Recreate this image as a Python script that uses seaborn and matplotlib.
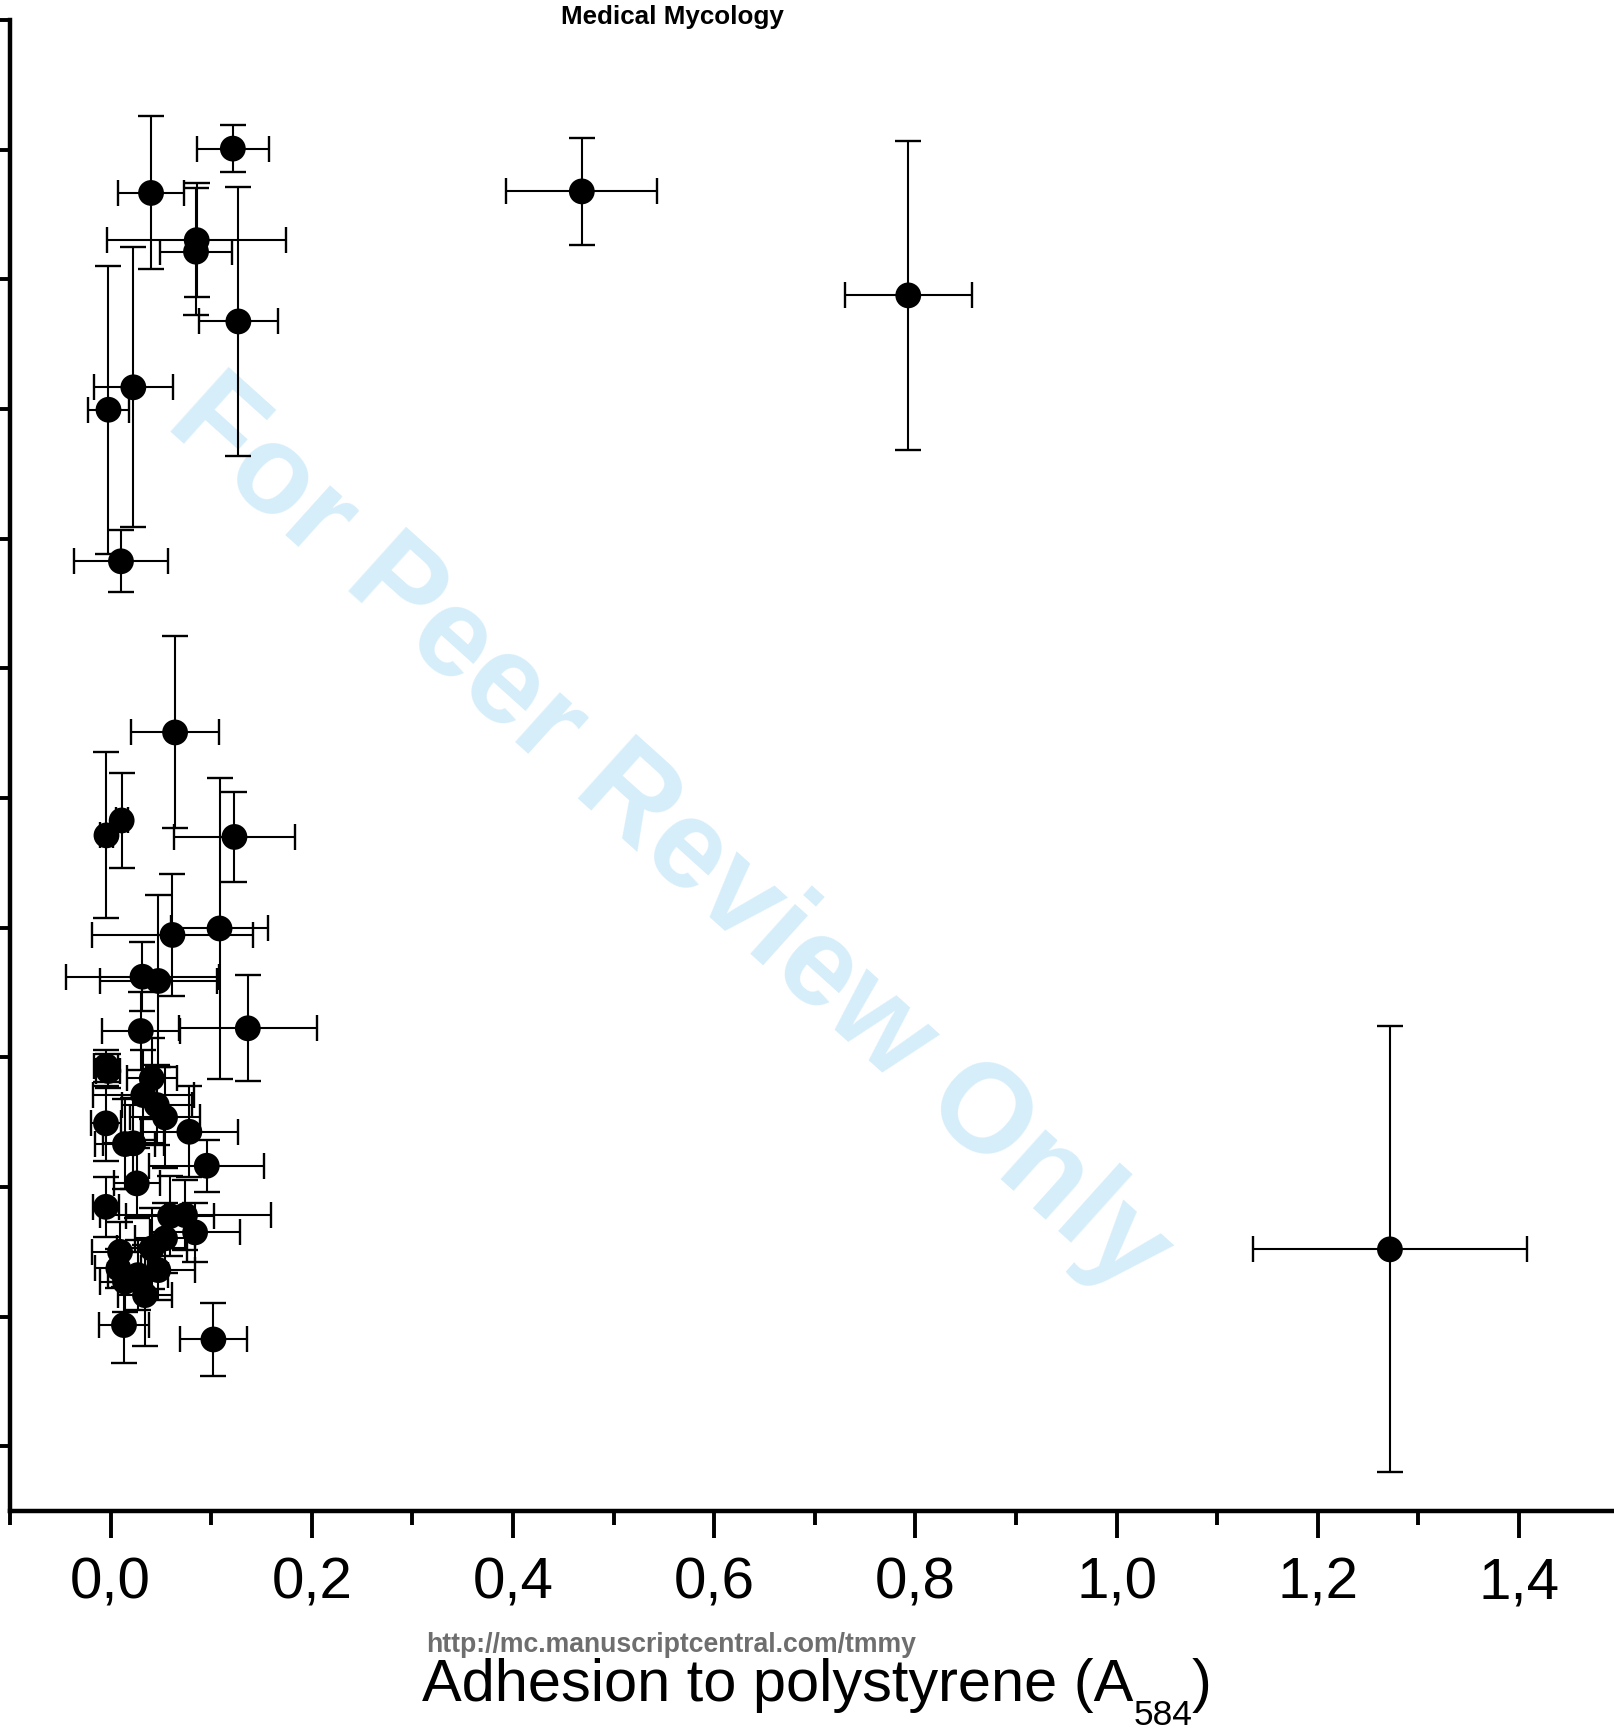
import numpy as np
import pandas as pd
import matplotlib
matplotlib.use("Agg")
import matplotlib.pyplot as plt
import seaborn as sns

# ---------------- data ----------------
adhesion = [0.1215, 0.0402, 0.0856, 0.0849, 0.1270, 0.0226, -0.0021, 0.0103,
            0.4684, 0.7929,
            0.0641, 0.0110, -0.0041, 0.1231, 0.1083, 0.0615, 0.0317, 0.0474,
            0.1364, 0.0300,
            -0.0044, -0.0022, 0.0409, 0.0325, 0.0459, 0.0541, -0.0046, 0.0783,
            0.0143, 0.0226, 0.0956, 0.0260, -0.0046, 0.0591, 0.0740, 0.0840,
            0.0541, 0.0409, 0.0094, 0.0077, 0.0474, 0.0270, 0.0143, 0.0342,
            0.0133, 0.1022,
            1.2717]
adhesion_sd = [0.036, 0.033, 0.089, 0.036, 0.039, 0.039, 0.020, 0.047,
               0.075, 0.063,
               0.044, 0.006, 0.006, 0.060, 0.0485, 0.080, 0.0756, 0.058,
               0.0685, 0.039,
               0.012, 0.012, 0.025, 0.050, 0.035, 0.035, 0.015, 0.048,
               0.030, 0.030, 0.057, 0.023, 0.013, 0.044, 0.085, 0.045,
               0.030, 0.035, 0.028, 0.023, 0.036, 0.030, 0.025, 0.027,
               0.025, 0.033,
               0.136]
trait = [10.008, 9.666, 9.302, 9.213, 8.675, 8.167, 7.994, 6.825,
         9.678, 8.876,
         5.505, 4.826, 4.711, 4.699, 3.993, 3.943, 3.621, 3.588,
         3.223, 3.202,
         2.932, 2.894, 2.837, 2.708, 2.631, 2.536, 2.490, 2.425,
         2.330, 2.336, 2.163, 2.027, 1.846, 1.775, 1.782, 1.649,
         1.603, 1.525, 1.499, 1.371, 1.358, 1.319, 1.268, 1.165,
         0.934, 0.823,
         1.518]
trait_sd = [0.18, 0.59, 0.44, 0.49, 1.04, 1.08, 1.11, 0.24,
            0.41, 1.19,
            0.74, 0.37, 0.64, 0.35, 1.16, 0.47, 0.265, 0.66,
            0.41, 0.30,
            0.12, 0.13, 0.31, 0.35, 0.31, 0.39, 0.29, 0.35,
            0.35, 0.35, 0.20, 0.27, 0.23, 0.31, 0.27, 0.23,
            0.27, 0.31, 0.23, 0.15, 0.23, 0.27, 0.23, 0.39,
            0.29, 0.28,
            1.72]

x_major = [0.0, 0.2, 0.4, 0.6, 0.8, 1.0, 1.2, 1.4]
x_major_labels = ["0,0", "0,2", "0,4", "0,6", "0,8", "1,0", "1,2", "1,4"]
x_minor = [-0.1, 0.1, 0.3, 0.5, 0.7, 0.9, 1.1, 1.3, 1.5]
y_major = list(range(0, 12))

xlabel_main = "Adhesion to polystyrene (A"
xlabel_sub = "584"
xlabel_end = ")"
header = "Medical Mycology"
footer = "http://mc.manuscriptcentral.com/tmmy"
watermark = "For Peer Review Only"

df = pd.DataFrame({"adhesion": adhesion, "adhesion_sd": adhesion_sd,
                   "trait": trait, "trait_sd": trait_sd})

# ---------------- style ----------------
sns.set_theme(style="ticks")
plt.rcParams["font.family"] = ["Liberation Sans", "DejaVu Sans"]
plt.rcParams["text.color"] = "black"

W, H = 1615, 1735
fig = plt.figure(figsize=(W / 100, H / 100), dpi=100)
fig.patch.set_facecolor("white")

ax_left_px, ax_bottom_px, ax_top_px = 10.0, 1511.0, 20.0
ax_width_px = 1.6 * 1006.0
ax = fig.add_axes([ax_left_px / W, (H - ax_bottom_px) / H,
                   ax_width_px / W, (ax_bottom_px - ax_top_px) / H])
ax.set_facecolor("none")

ax.errorbar(df["adhesion"], df["trait"], xerr=df["adhesion_sd"], yerr=df["trait_sd"],
            fmt="none", ecolor="black", elinewidth=1.5, capsize=9.3, capthick=1.7,
            zorder=2)
sns.scatterplot(data=df, x="adhesion", y="trait", color="black", s=345,
                linewidth=0, edgecolor="none", ax=ax, zorder=3, legend=False)

ax.set_xlim(-0.1, 1.5)
ax.set_ylim(-0.5, 11.0)

for side in ["top", "right"]:
    ax.spines[side].set_visible(False)
for side in ["left", "bottom"]:
    ax.spines[side].set_linewidth(3.2)
    ax.spines[side].set_color("black")

ax.set_xticks(x_major)
ax.set_xticklabels(x_major_labels)
ax.set_xticks(x_minor, minor=True)
ax.set_yticks(y_major)
ax.set_yticklabels([""] * len(y_major))
ax.tick_params(axis="x", which="major", direction="out", length=19.5, width=2.8,
               pad=13, labelsize=42, colors="black", labelcolor="black")
ax.tick_params(axis="x", which="minor", direction="out", length=10, width=2.8,
               colors="black")
ax.tick_params(axis="y", which="major", direction="out", length=20, width=2.8,
               colors="black")
ax.set_xlabel("")
ax.set_ylabel("")

# watermark, behind the data
ax.text(668 / W, 1 - 836 / H, watermark, transform=fig.transFigure,
        fontsize=91, fontweight="bold", color="#d6eefa", rotation=-42,
        ha="center", va="center", rotation_mode="anchor", zorder=0)

# header / footer
fig.text(672 / W, 1 - 24 / H, header, fontsize=18.7, fontweight="bold",
         color="black", ha="center", va="baseline")
fig.text(671 / W, 1 - 1652 / H, footer, fontsize=19.2, fontweight="bold",
         color="#6e6e6e", ha="center", va="baseline")

# x label with a real subscript
base_px = 1701.0
sub_px = 1725.0
t1 = fig.text(0, 1 - base_px / H, xlabel_main, fontsize=42.8, color="black",
              ha="left", va="baseline")
t2 = fig.text(0, 1 - sub_px / H, xlabel_sub, fontsize=25.5, color="black",
              ha="left", va="baseline")
t3 = fig.text(0, 1 - base_px / H, xlabel_end, fontsize=42.8, color="black",
              ha="left", va="baseline")
fig.canvas.draw()
r = fig.canvas.get_renderer()
w1 = t1.get_window_extent(r).width
w2 = t2.get_window_extent(r).width
w3 = t3.get_window_extent(r).width
center_px = 817.0
x0 = center_px - (w1 + w2 + w3) / 2
t1.set_x(x0 / W)
t2.set_x((x0 + w1) / W)
t3.set_x((x0 + w1 + w2) / W)

fig.savefig("out.png", dpi=100, facecolor="white")
